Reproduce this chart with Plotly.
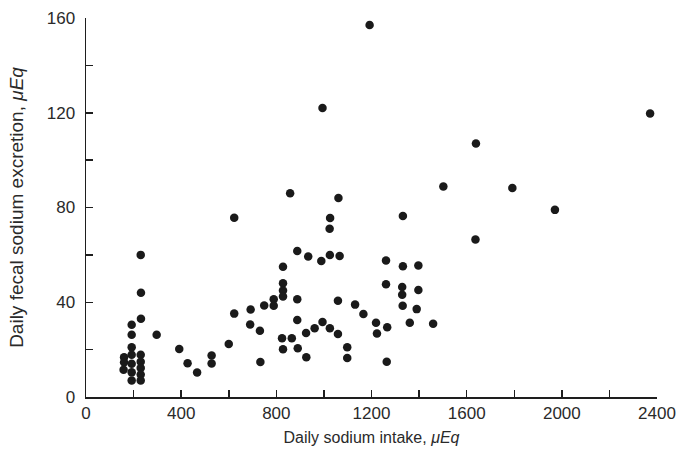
import plotly.graph_objects as go

# Daily sodium intake (µEq) and daily fecal sodium excretion (µEq)
intake = [160, 160, 158,
          192, 192, 192, 192, 192, 192, 192,
          230, 231, 231, 230, 230, 230, 230, 230,
          297, 392, 427, 467, 528, 528, 600, 623, 623, 692, 690, 731, 733, 749,
          789, 789, 828, 828, 828, 828, 824, 828, 865, 858, 888, 888, 888, 890,
          926, 925, 934, 961, 989, 994, 994, 1025, 1025, 1026, 1024, 1061, 1066,
          1059, 1059, 1098, 1098, 1131, 1166, 1192, 1219, 1223, 1266, 1264, 1261,
          1261, 1329, 1329, 1332, 1331, 1332, 1361, 1390, 1397, 1397, 1459, 1502,
          1637, 1639, 1792, 1971, 2371]
excretion = [16.8, 14.7, 11.5,
             30.5, 26.3, 21, 17.8, 14, 10.4, 7,
             60, 44, 33, 17.8, 14.9, 12.2, 9.5, 7,
             26.3, 20.3, 14.2, 10.3, 17.5, 14.1, 22.4, 35.2, 75.7, 36.9, 30.6, 28, 14.8, 38.6,
             41.3, 38.5, 55, 48, 45, 42.4, 24.8, 20.2, 24.8, 86, 61.6, 41.3, 32.5, 20.6,
             16.8, 27, 59.3, 29, 57.4, 31.7, 122, 59.9, 29, 75.6, 71, 84, 59.5,
             40.6, 26.6, 21, 16.5, 39, 35, 157, 31.3, 26.8, 29.4, 14.9, 57.6,
             47.6, 46.4, 43.2, 55.2, 38.5, 76.4, 31.3, 37.1, 55.5, 45.2, 30.9, 88.9,
             66.5, 107, 88.2, 79, 119.7]

x_ticks = [0, 400, 800, 1200, 1600, 2000, 2400]
y_ticks = [0, 40, 80, 120, 160]

ink = "#1e1e1e"
fam = "Liberation Sans, Arial, sans-serif"
tick_font = dict(family=fam, size=17, color="#2a2a2a")

fig = go.Figure()
fig.add_trace(go.Scatter(
    x=intake, y=excretion, mode="markers",
    marker=dict(size=8.5, color="#1a1a1a"),
    cliponaxis=False, showlegend=False, hoverinfo="skip",
))

fig.update_layout(
    width=682, height=460,
    margin=dict(l=86, r=25, t=18, b=63),
    paper_bgcolor="white", plot_bgcolor="white",
    font=dict(family=fam, size=15, color="#2a2a2a"),
)
fig.update_xaxes(
    range=[0, 2400], tickvals=x_ticks, ticktext=[str(v) for v in x_ticks],
    tickfont=tick_font, ticklabeloverflow="allow", automargin=False,
    showgrid=False, zeroline=False,
    showline=True, linecolor=ink, linewidth=1.5,
    ticks="inside", ticklen=7, tickcolor=ink, tickwidth=1.5,
    minor=dict(ticks="inside", dtick=200, ticklen=7, tickcolor=ink, tickwidth=1.5, showgrid=False),
    title=dict(text="Daily sodium intake, <i>μEq</i>",
               font=dict(family=fam, size=16, color="#2a2a2a"), standoff=10),
)
fig.update_yaxes(
    range=[0, 160], tickvals=y_ticks, ticktext=[str(v) for v in y_ticks],
    tickfont=tick_font, ticklabelstandoff=6, ticklabeloverflow="allow", automargin=False,
    showgrid=False, zeroline=False,
    showline=True, linecolor=ink, linewidth=1.5,
    ticks="inside", ticklen=7, tickcolor=ink, tickwidth=1.5,
    minor=dict(ticks="inside", dtick=20, ticklen=7, tickcolor=ink, tickwidth=1.5, showgrid=False),
    title=dict(text="Daily fecal sodium excretion, <i>μEq</i>",
               font=dict(family=fam, size=19, color="#2a2a2a"), standoff=18),
)

fig.write_html(
    "out.html",
    config={"displayModeBar": False, "staticPlot": True},
    post_script="document.body.style.margin='0';document.body.style.overflow='hidden';",
)
